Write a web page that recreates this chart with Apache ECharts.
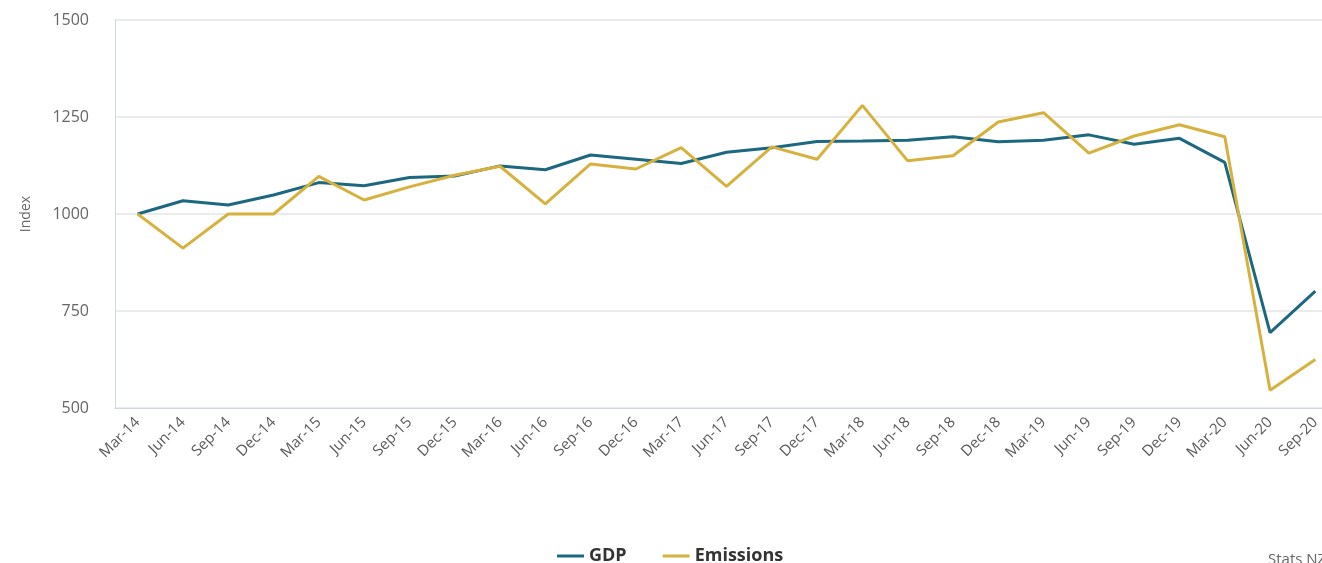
<!DOCTYPE html>
<html>
<head>
<meta charset="utf-8">
<script src="https://cdn.jsdelivr.net/npm/echarts@6/dist/echarts.min.js"></script>
<style>html,body{margin:0;padding:0;background:#fff;overflow:hidden;width:1322px;height:563px;}#c{width:1340px;height:563px;}</style>
</head>
<body>
<div id="c"></div>
<script>
const categories = ['Mar-14','Jun-14','Sep-14','Dec-14','Mar-15','Jun-15','Sep-15','Dec-15','Mar-16','Jun-16','Sep-16','Dec-16','Mar-17','Jun-17','Sep-17','Dec-17','Mar-18','Jun-18','Sep-18','Dec-18','Mar-19','Jun-19','Sep-19','Dec-19','Mar-20','Jun-20','Sep-20'];
const gdp = [1000,1034,1023,1049,1081,1073,1094,1098,1124,1114,1152,1141,1130,1159,1171,1187,1188,1190,1199,1186,1190,1204,1180,1195,1133,694,801];
const emissions = [1000,912,1000,1000,1097,1036,1070,1100,1123,1026,1129,1116,1171,1071,1173,1141,1280,1137,1150,1237,1261,1157,1201,1230,1199,546,625];
const yTicks = [500,750,1000,1250,1500];

const FONT = '"Open Sans", Lato, sans-serif';
const chart = echarts.init(document.getElementById('c'));
chart.setOption({
  animation: false,
  grid: {left: 115, width: 1223, top: 20, height: 388, containLabel: false, outerBoundsMode: 'none'},
  legend: {
    top: 542, left: 552,
    itemWidth: 27, itemHeight: 3, itemGap: 36,
    icon: 'rect',
    textStyle: {fontFamily: FONT, fontWeight: 'bold', fontSize: 18, color: '#333'},
    data: ['GDP','Emissions']
  },
  xAxis: {
    type: 'category', data: categories, boundaryGap: true,
    axisLine: {lineStyle: {color: '#ccd6eb'}},
    axisTick: {alignWithLabel: true, length: 10, lineStyle: {color: '#ccd6eb'}},
    axisLabel: {rotate: 45, color: '#5a5a5a', fontSize: 15, fontFamily: FONT, margin: 12, interval: 0}
  },
  yAxis: {
    type: 'value', min: 500, max: 1500, interval: 250,
    name: 'Index', nameLocation: 'middle', nameGap: 82, nameRotate: 90,
    nameTextStyle: {color: '#666', fontSize: 14, fontFamily: FONT},
    axisLine: {show: true, lineStyle: {color: '#ccd6eb'}},
    axisTick: {show: false},
    axisLabel: {color: '#666', fontSize: 16, fontFamily: FONT, margin: 26,
      formatter: v => yTicks.includes(v) ? String(v) : ''},
    splitLine: {lineStyle: {color: '#ebebeb', width: 2}}
  },
  series: [
    {name: 'GDP', type: 'line', data: gdp, symbol: 'none', lineStyle: {color: '#1c6880', width: 3}, itemStyle: {color: '#1c6880'}},
    {name: 'Emissions', type: 'line', data: emissions, symbol: 'none', lineStyle: {color: '#d6b13d', width: 3}, itemStyle: {color: '#d6b13d'}}
  ],
  graphic: [{type: 'text', left: 1268, top: 552, style: {text: 'Stats NZ', fill: '#666', font: '15px "Open Sans", sans-serif'}}]
});
</script>
</body>
</html>
